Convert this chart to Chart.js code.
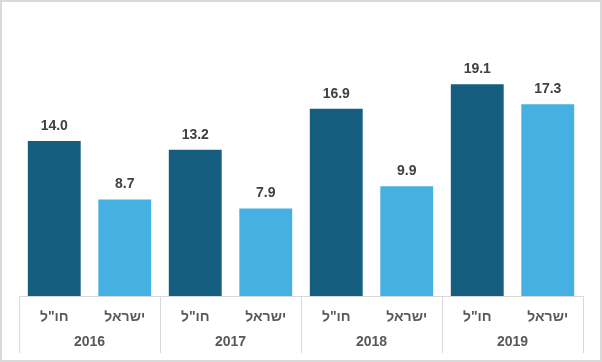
<!DOCTYPE html>
<html>
<head>
<meta charset="utf-8">
<script src="https://cdn.jsdelivr.net/npm/chart.js"></script>
<style>
  body { margin: 0; background: #fff; }
</style>
</head>
<body>
<canvas id="chart" width="602" height="362"></canvas>
<script>
// data
const years = ['2016', '2017', '2018', '2019'];
const seriesNames = ['חו"ל', 'ישראל'];
const abroad = [14.0, 13.2, 16.9, 19.1];
const israel = [8.7, 7.9, 9.9, 17.3];
const seriesColors = ['#165E80', '#45B0E1'];

const FONT = '"Liberation Sans", Arial, sans-serif';

// one bar per (year, series) pair, in display order
const labels = [];
const values = [];
const barColors = [];
years.forEach((y, i) => {
    labels.push(seriesNames[0]); values.push(abroad[i]); barColors.push(seriesColors[0]);
    labels.push(seriesNames[1]); values.push(israel[i]); barColors.push(seriesColors[1]);
});

const extras = {
    id: 'extras',
    beforeDraw(chart) {
        const ctx = chart.ctx;
        ctx.save();
        ctx.strokeStyle = '#d9d9d9';
        ctx.lineWidth = 2;
        ctx.strokeRect(1, 1, chart.width - 2, chart.height - 2);
        ctx.restore();
    },
    afterDatasetsDraw(chart) {
        const ctx = chart.ctx;
        const meta = chart.getDatasetMeta(0);
        ctx.save();
        ctx.font = 'bold 14px ' + FONT;
        ctx.fillStyle = '#404040';
        ctx.textAlign = 'center';
        ctx.textBaseline = 'middle';
        meta.data.forEach((bar, i) => {
            ctx.fillText(values[i].toFixed(1), bar.x, bar.y - 15);
        });
        ctx.restore();
    },
    afterDraw(chart) {
        const ctx = chart.ctx;
        const x = chart.scales.x;
        const bottom = chart.chartArea.bottom;
        const cw = (x.right - x.left) / labels.length;
        ctx.save();
        ctx.strokeStyle = '#d9d9d9';
        ctx.lineWidth = 1;
        for (let k = 0; k <= years.length; k++) {
            const px = Math.round(x.left + k * 2 * cw) + 0.5;
            ctx.beginPath();
            ctx.moveTo(px, bottom);
            ctx.lineTo(px, 353);
            ctx.stroke();
        }
        ctx.font = 'bold 14px ' + FONT;
        ctx.fillStyle = '#595959';
        ctx.textAlign = 'center';
        ctx.textBaseline = 'middle';
        years.forEach((y, i) => {
            ctx.fillText(y, x.left + (2 * i + 1) * cw, 342);
        });
        ctx.restore();
    }
};

new Chart(document.getElementById('chart').getContext('2d'), {
    type: 'bar',
    data: {
        labels: labels,
        datasets: [{
            data: values,
            backgroundColor: barColors,
            borderWidth: 0,
            barPercentage: 0.75,
            categoryPercentage: 1
        }]
    },
    options: {
        responsive: false,
        animation: false,
        layout: { padding: { left: 19, right: 19, top: 19, bottom: 0 } },
        plugins: {
            legend: { display: false },
            tooltip: { enabled: false }
        },
        scales: {
            x: {
                grid: { display: false },
                border: { color: '#d9d9d9', width: 1 },
                ticks: {
                    color: '#595959',
                    font: { family: FONT, size: 14, weight: 'bold' },
                    padding: 5,
                    maxRotation: 0,
                    autoSkip: false
                },
                afterFit(scale) { scale.height = 66; }
            },
            y: {
                display: false,
                min: 0,
                max: 25
            }
        }
    },
    plugins: [extras]
});
</script>
</body>
</html>
